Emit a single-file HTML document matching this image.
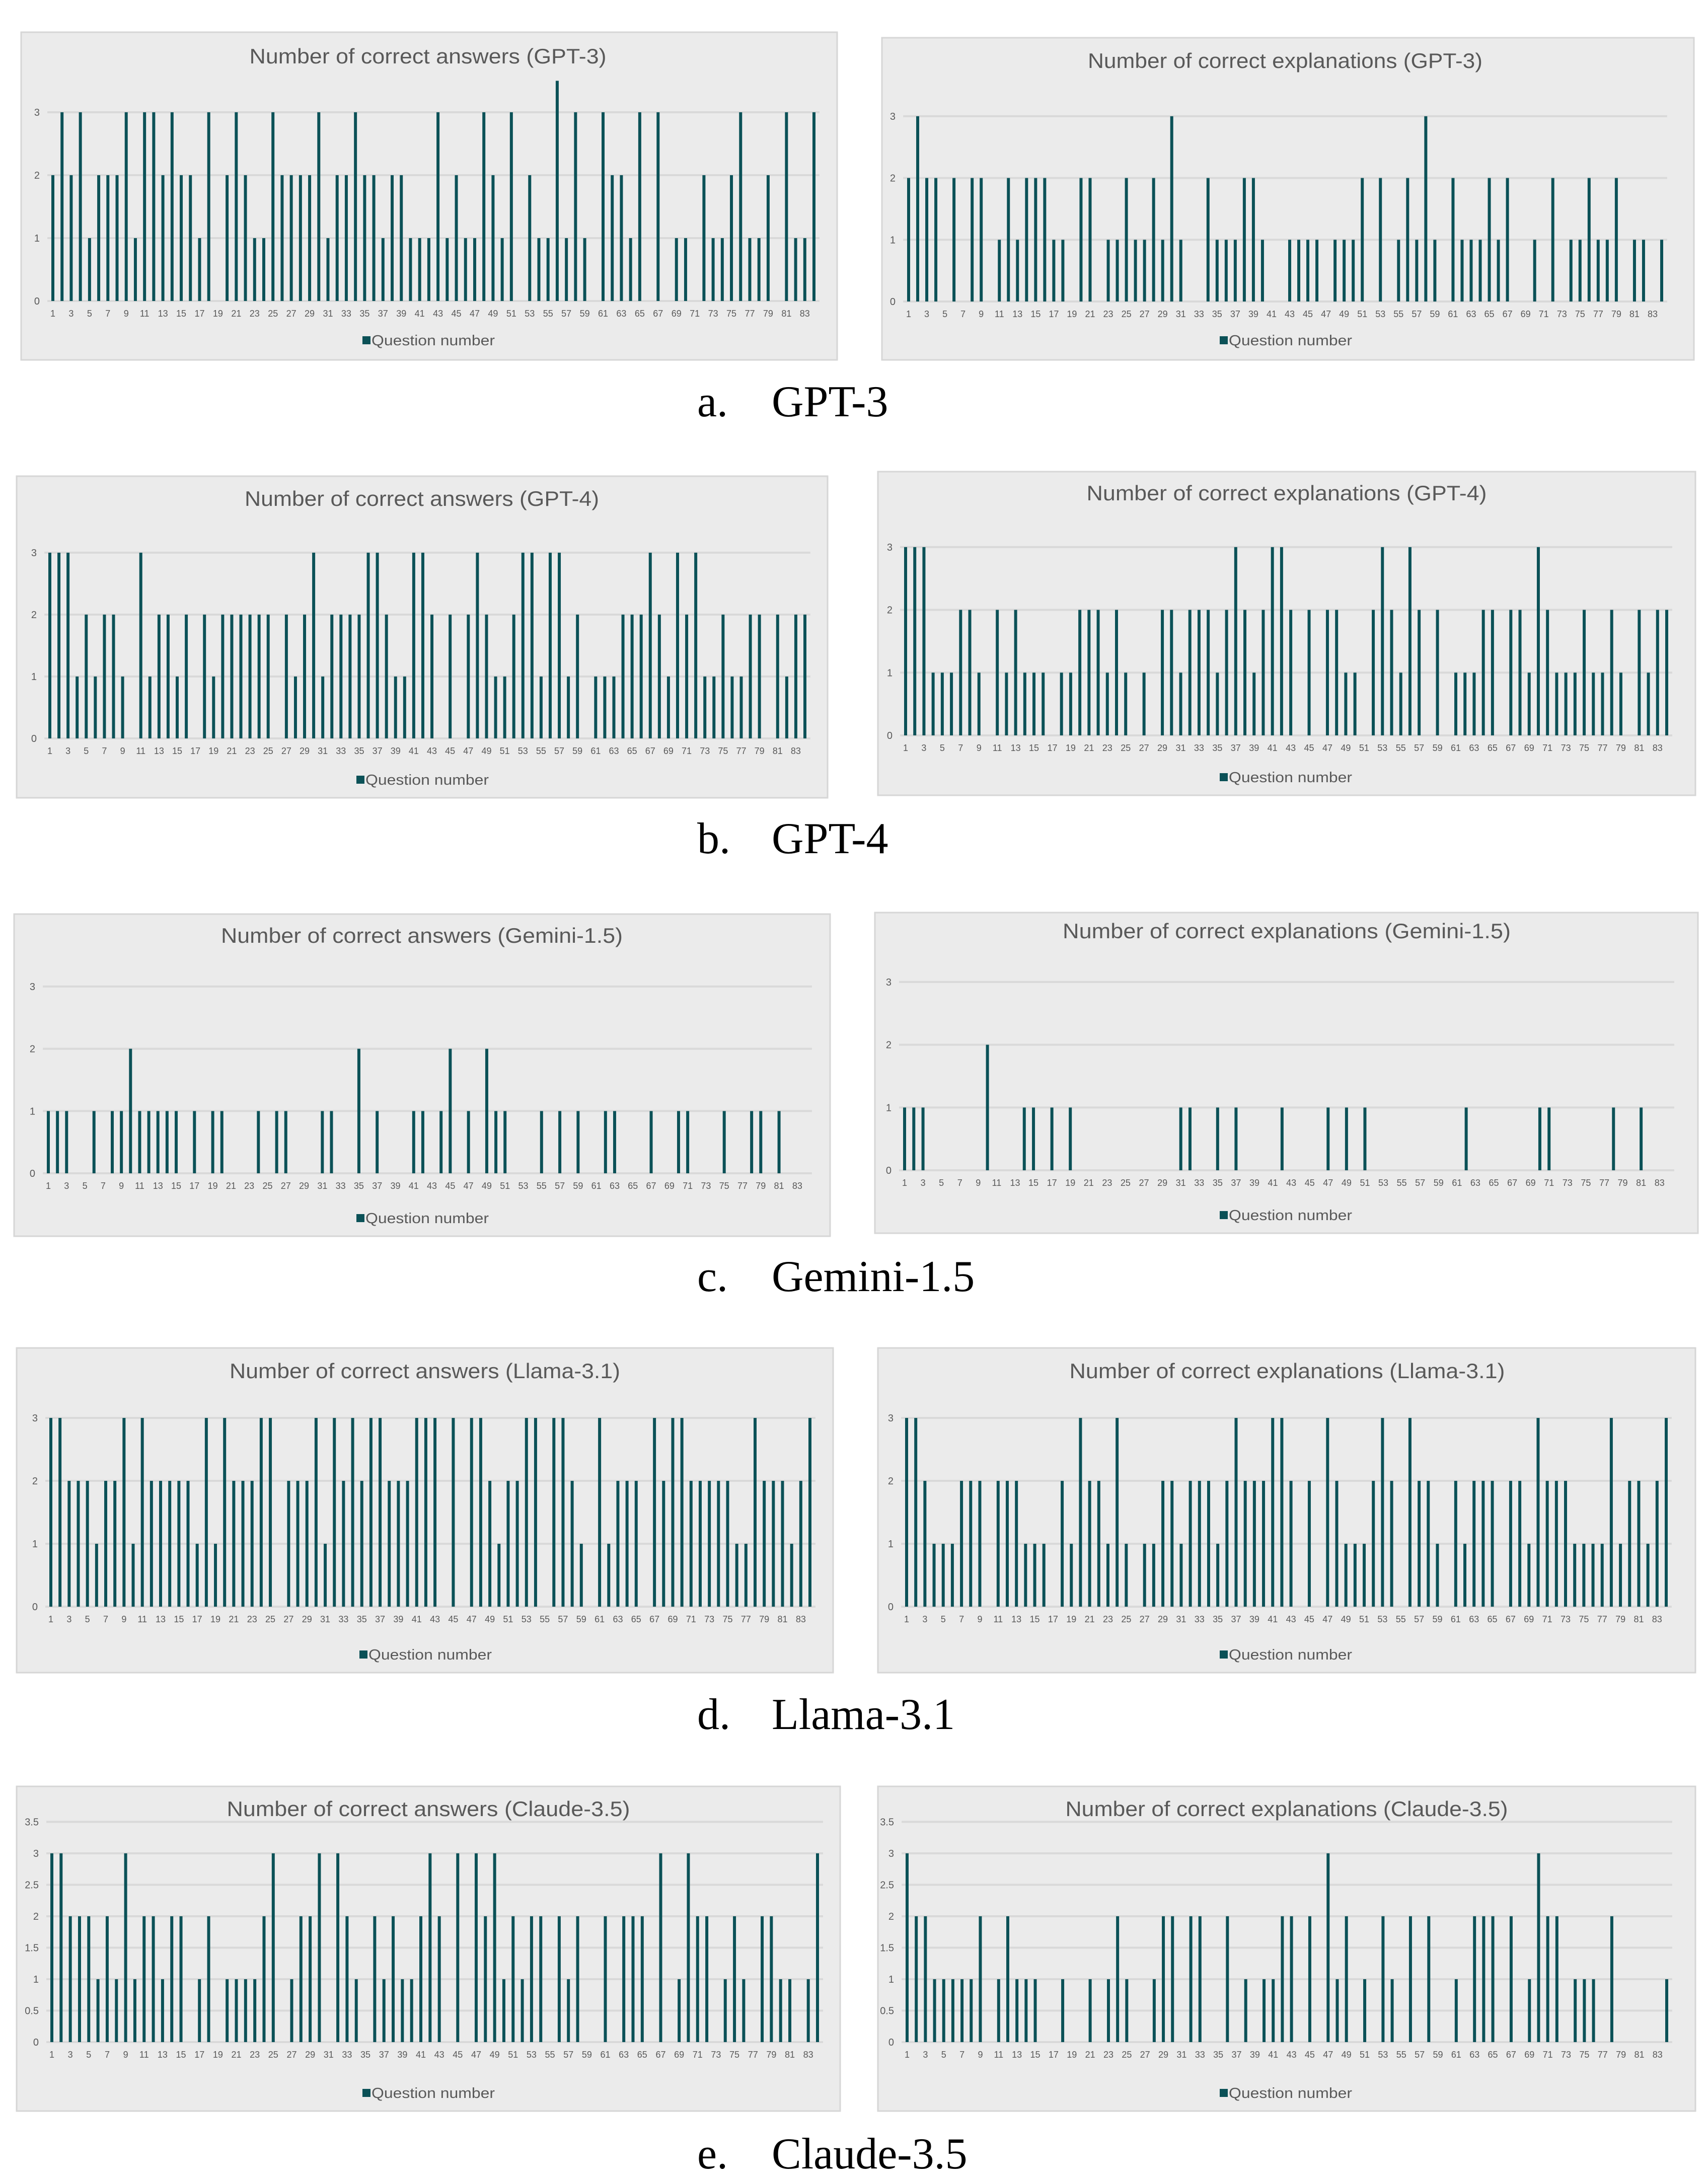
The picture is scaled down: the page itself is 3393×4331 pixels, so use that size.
<!DOCTYPE html>
<html><head><meta charset="utf-8"><style>
html,body{margin:0;padding:0;background:#fff;}
svg{display:block;}
text{font-family:"Liberation Sans",sans-serif;}
text.cap{font-family:"Liberation Serif",serif;}
</style></head><body>
<svg id="fig" width="3393" height="4331" viewBox="0 0 3393 4331" xmlns="http://www.w3.org/2000/svg"></svg>
<script>
const questions = Array.from({length:84},(_,i)=>i+1);
const gpt3Answers = [2,3,2,3,1,2,2,2,3,1,3,3,2,3,2,2,1,3,0,2,3,2,1,1,3,2,2,2,2,3,1,2,2,3,2,2,1,2,2,1,1,1,3,1,2,1,1,3,2,1,3,0,2,1,1,3.5,1,3,1,0,3,2,2,1,3,0,3,0,1,1,0,2,1,1,2,3,1,1,2,0,3,1,1,3];
const gpt3Explanations = [2,3,2,2,0,2,0,2,2,0,1,2,1,2,2,2,1,1,0,2,2,0,1,1,2,1,1,2,1,3,1,0,0,2,1,1,1,2,2,1,0,0,1,1,1,1,0,1,1,1,2,0,2,0,1,2,1,3,1,0,2,1,1,1,2,1,2,0,0,1,0,2,0,1,1,2,1,1,2,0,1,1,0,1];
const gpt4Answers = [3,3,3,1,2,1,2,2,1,0,3,1,2,2,1,2,0,2,1,2,2,2,2,2,2,0,2,1,2,3,1,2,2,2,2,3,3,2,1,1,3,3,2,0,2,0,2,3,2,1,1,2,3,3,1,3,3,1,2,0,1,1,1,2,2,2,3,2,1,3,2,3,1,1,2,1,1,2,2,0,2,1,2,2];
const gpt4Explanations = [3,3,3,1,1,1,2,2,1,0,2,1,2,1,1,1,0,1,1,2,2,2,1,2,1,0,1,0,2,2,1,2,2,2,1,2,3,2,1,2,3,3,2,0,2,0,2,2,1,1,0,2,3,2,1,3,2,0,2,0,1,1,1,2,2,0,2,2,1,3,2,1,1,1,2,1,1,2,1,0,2,1,2,2];
const geminiAnswers = [1,1,1,0,0,1,0,1,1,2,1,1,1,1,1,0,1,0,1,1,0,0,0,1,0,1,1,0,0,0,1,1,0,0,2,0,1,0,0,0,1,1,0,1,2,0,1,0,2,1,1,0,0,0,1,0,1,0,1,0,0,1,1,0,0,0,1,0,0,1,1,0,0,0,1,0,0,1,1,0,1,0,0,0];
const geminiExplanations = [1,1,1,0,0,0,0,0,0,2,0,0,0,1,1,0,1,0,1,0,0,0,0,0,0,0,0,0,0,0,1,1,0,0,1,0,1,0,0,0,0,1,0,0,0,0,1,0,1,0,1,0,0,0,0,0,0,0,0,0,0,1,0,0,0,0,0,0,0,1,1,0,0,0,0,0,0,1,0,0,1,0,0,0];
const llamaAnswers = [3,3,2,2,2,1,2,2,3,1,3,2,2,2,2,2,1,3,1,3,2,2,2,3,3,0,2,2,2,3,1,3,2,3,2,3,3,2,2,2,3,3,3,0,3,0,3,3,2,1,2,2,3,3,0,3,3,2,1,0,3,1,2,2,2,0,3,2,3,3,2,2,2,2,2,1,1,3,2,2,2,1,2,3];
const llamaExplanations = [3,3,2,1,1,1,2,2,2,0,2,2,2,1,1,1,0,2,1,3,2,2,1,3,1,0,1,1,2,2,1,2,2,2,1,2,3,2,2,2,3,3,2,0,2,0,3,2,1,1,1,2,3,2,0,3,2,2,1,0,2,1,2,2,2,0,2,2,1,3,2,2,2,1,1,1,1,3,1,2,2,1,2,3];
const claudeAnswers = [3,3,2,2,2,1,2,1,3,1,2,2,1,2,2,0,1,2,0,1,1,1,1,2,3,0,1,2,2,3,0,3,2,1,0,2,1,2,1,1,2,3,2,0,3,0,3,2,3,1,2,1,2,2,0,2,1,2,0,0,2,0,2,2,2,0,3,0,1,3,2,2,0,1,2,1,0,2,2,1,1,0,1,3];
const claudeExplanations = [3,2,2,1,1,1,1,1,2,0,1,2,1,1,1,0,0,1,0,0,1,0,1,2,1,0,0,1,2,2,0,2,2,0,0,2,0,1,0,1,1,2,2,0,2,0,3,1,2,0,1,0,2,1,0,2,0,2,0,0,1,0,2,2,2,0,2,0,1,3,2,2,0,1,1,1,0,2,0,0,0,0,0,1];
const ticksInt = [0,1,2,3];
const ticksHalf = [0,0.5,1,1.5,2,2.5,3,3.5];
const tickLabelsHalf = ["0","0.5","1","1.5","2","2.5","3","3.5"];

const NS="http://www.w3.org/2000/svg";
const svg=document.getElementById('fig');
function mk(tag,attrs,parent){const e=document.createElementNS(NS,tag);for(const k in attrs)e.setAttribute(k,attrs[k]);(parent||svg).appendChild(e);return e;}

const charts=[
 {key:'gpt3-answers',data:gpt3Answers,title:'Number of correct answers (GPT-3)',box:[42,64,1621,651],x1:105,x84:1617,zero:598,unit:125,ticks:ticksInt,labels:['0','1','2','3'],tx:850,ty:126,tw:709,lx:855,ly:676},
 {key:'gpt3-explanations',data:gpt3Explanations,title:'Number of correct explanations (GPT-3)',box:[1752,75,1613,640],x1:1805,x84:3301,zero:599,unit:122.7,ticks:ticksInt,labels:['0','1','2','3'],tx:2553,ty:135,tw:784,lx:2558,ly:676},
 {key:'gpt4-answers',data:gpt4Answers,title:'Number of correct answers (GPT-4)',box:[33,946,1611,639],x1:99,x84:1599,zero:1467,unit:123,ticks:ticksInt,labels:['0','1','2','3'],tx:838,ty:1005,tw:704,lx:843,ly:1549},
 {key:'gpt4-explanations',data:gpt4Explanations,title:'Number of correct explanations (GPT-4)',box:[1744,937,1624,643],x1:1799,x84:3311,zero:1461,unit:124.7,ticks:ticksInt,labels:['0','1','2','3'],tx:2556,ty:994,tw:795,lx:2558,ly:1544},
 {key:'gemini-answers',data:geminiAnswers,title:'Number of correct answers (Gemini-1.5)',box:[28,1816,1621,640],x1:96,x84:1602,zero:2331,unit:123.7,ticks:ticksInt,labels:['0','1','2','3'],tx:838,ty:1873,tw:798,lx:843,ly:2420},
 {key:'gemini-explanations',data:geminiExplanations,title:'Number of correct explanations (Gemini-1.5)',box:[1738,1813,1635,637],x1:1797,x84:3315,zero:2325,unit:124.7,ticks:ticksInt,labels:['0','1','2','3'],tx:2556,ty:1864,tw:890,lx:2558,ly:2414},
 {key:'llama-answers',data:llamaAnswers,title:'Number of correct answers (Llama-3.1)',box:[33,2678,1622,645],x1:101,x84:1609,zero:3192,unit:125,ticks:ticksInt,labels:['0','1','2','3'],tx:844,ty:2738,tw:776,lx:849,ly:3287},
 {key:'llama-explanations',data:llamaExplanations,title:'Number of correct explanations (Llama-3.1)',box:[1744,2678,1624,645],x1:1801,x84:3310,zero:3192,unit:125,ticks:ticksInt,labels:['0','1','2','3'],tx:2557,ty:2738,tw:865,lx:2558,ly:3287},
 {key:'claude-answers',data:claudeAnswers,title:'Number of correct answers (Claude-3.5)',box:[33,3549,1636,645],x1:103,x84:1624,zero:4057,unit:125,ticks:ticksHalf,labels:tickLabelsHalf,tx:851,ty:3608,tw:801,lx:855,ly:4158},
 {key:'claude-explanations',data:claudeExplanations,title:'Number of correct explanations (Claude-3.5)',box:[1744,3549,1624,645],x1:1802,x84:3311,zero:4057,unit:125,ticks:ticksHalf,labels:tickLabelsHalf,tx:2556,ty:3608,tw:879,lx:2558,ly:4158}
];

charts.forEach(c=>{
  const g=mk('g',{});
  
  
  const bg=mk('rect',{x:c.box[0],y:c.box[1],width:c.box[2],height:c.box[3],fill:'#ebebeb',stroke:'#d6d6d6','stroke-width':3},g);
  
  
  const step=(c.x84-c.x1)/83;
  const xs=i=>c.x1+i*step;
  const ys=v=>c.zero-v*c.unit;
  const gl=c.x1-step*0.6, gr=c.x84+step*0.6;
  c.ticks.forEach((t,i)=>{
    const ln=mk('line',{x1:gl,x2:gr,y1:ys(t),y2:ys(t),stroke:'#d9d9d9','stroke-width':4},g);
    
    
    const tl=mk('text',{x:c.x1-26,y:ys(t)+7,'text-anchor':'end','font-size':20,fill:'#595959'},g);
    
    
    tl.textContent=c.labels[i];
  });
  c.data.forEach((v,i)=>{
    if(v<=0) return;
    const b=mk('rect',{x:xs(i)-3,y:ys(v),width:6,height:v*c.unit,fill:'#0b5157'},g);
    
    
  });
  questions.forEach((q,i)=>{
    if(q%2===0) return;
    const t=mk('text',{x:xs(i),y:c.zero+31,'text-anchor':'middle','font-size':18,fill:'#595959'},g);
    
    
    t.textContent=q;
  });
  const ti=mk('text',{x:c.tx,y:c.ty,'text-anchor':'middle','font-size':42,fill:'#595959',textLength:c.tw,lengthAdjust:'spacingAndGlyphs'},g);
  
  
  ti.textContent=c.title;
  const sq=mk('rect',{x:c.lx-135,y:c.ly-8,width:16,height:16,fill:'#0b5157'},g);
  
  
  const lt=mk('text',{x:c.lx-117,y:c.ly+10,'font-size':29,fill:'#595959',textLength:245,lengthAdjust:'spacingAndGlyphs'},g);
  
  
  lt.textContent='Question number';
});

const captionLetters=['a.','b.','c.','d.','e.'];
const captionNames=['GPT-3','GPT-4','Gemini-1.5','Llama-3.1','Claude-3.5'];
const captionY=[827,1695,2565,3435,4308];
captionLetters.forEach((l,i)=>{
  const a=mk('text',{x:1385,y:captionY[i],'font-size':88,fill:'#000','class':'cap'});
  
  
  a.setAttribute('style','font-family:"Liberation Serif",serif');
  a.textContent=l;
  const n=mk('text',{x:1533,y:captionY[i],'font-size':88,fill:'#000','class':'cap'});
  
  
  n.setAttribute('style','font-family:"Liberation Serif",serif');
  n.textContent=captionNames[i];
});
</script>
</body></html>
